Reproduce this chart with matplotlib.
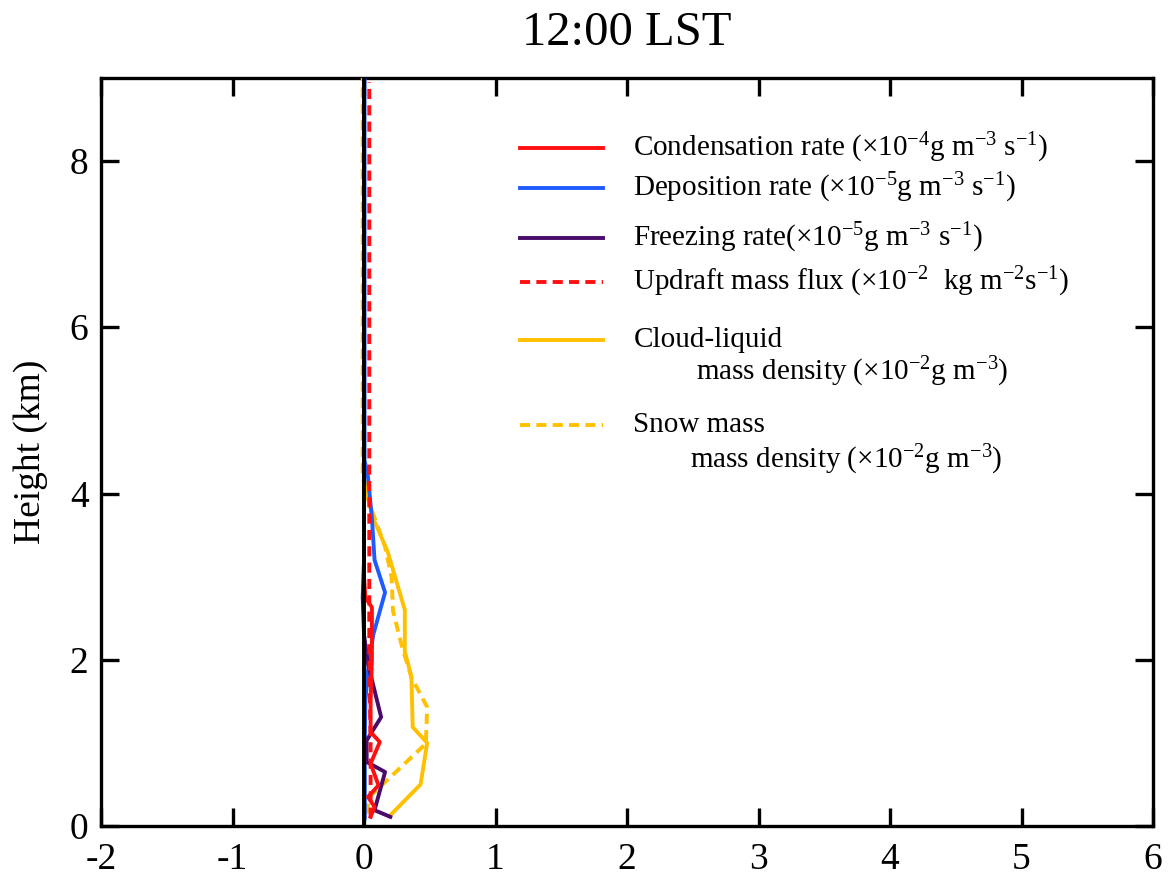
import matplotlib
matplotlib.use("Agg")
import matplotlib.pyplot as plt
from matplotlib.lines import Line2D

plt.rcParams['font.family'] = ['Liberation Serif', 'DejaVu Serif']
plt.rcParams['mathtext.fontset'] = 'custom'
plt.rcParams['mathtext.rm'] = 'Liberation Serif'
plt.rcParams['mathtext.it'] = 'Liberation Serif:italic'
plt.rcParams['mathtext.bf'] = 'Liberation Serif:bold'

# ---- data (values x, heights km) ----
cond_h = [0.11, 0.23, 0.35, 0.49, 0.75, 1.01, 1.13, 1.5, 2.0, 2.4, 2.63, 2.75, 3.0, 9.0]
cond_x = [0.05, 0.08, 0.03, 0.11, 0.05, 0.12, 0.05, 0.05, 0.06, 0.06, 0.06, 0.01, 0.0, 0.0]

dep_h = [0.1, 1.0, 1.5, 1.87, 2.3, 2.81, 3.2, 3.7, 4.2, 4.4, 9.0]
dep_x = [0.006, 0.006, 0.01, 0.03, 0.07, 0.16, 0.08, 0.06, 0.03, 0.004, 0.004]

frz_h = [0.11, 0.19, 0.65, 0.77, 1.03, 1.31, 1.95, 2.3, 2.75, 3.2, 9.0]
frz_x = [0.20, 0.08, 0.16, 0.02, 0.02, 0.13, 0.03, 0.0, -0.01, 0.0, 0.0]

upd_h = [0.1, 0.5, 1.0, 1.5, 2.0, 2.5, 3.0, 4.0, 8.95]
upd_x = [0.05, 0.05, 0.05, 0.045, 0.04, 0.04, 0.04, 0.04, 0.04]

liq_h = [0.13, 0.5, 1.0, 1.19, 1.8, 2.1, 2.6, 3.3, 3.7, 4.0, 4.2, 9.0]
liq_x = [0.20, 0.43, 0.48, 0.37, 0.36, 0.31, 0.31, 0.18, 0.07, 0.02, 0.0, 0.0]

snow_h = [0.15, 0.35, 0.99, 1.43, 1.79, 2.15, 2.59, 2.99, 3.36, 3.75, 4.0, 4.2, 9.0]
snow_x = [0.02, 0.04, 0.47, 0.48, 0.36, 0.29, 0.22, 0.21, 0.16, 0.07, 0.02, -0.01, -0.01]

xticks = [-2, -1, 0, 1, 2, 3, 4, 5, 6]
yticks = [0, 2, 4, 6, 8]

labels = [
    r"Condensation rate (×10$^{-4}$g m$^{-3}$ s$^{-1}$)",
    r"Deposition rate (×10$^{-5}$g m$^{-3}$ s$^{-1}$)",
    r"Freezing rate(×10$^{-5}$g m$^{-3}$ s$^{-1}$)",
    r"Updraft mass flux (×10$^{-2}$  kg m$^{-2}$s$^{-1}$)",
    r"Cloud-liquid",
    r"Snow mass",
]
labels2 = [None, None, None, None,
           r"mass density (×10$^{-2}$g m$^{-3}$)",
           r"mass density (×10$^{-2}$g m$^{-3}$)"]

RED = '#FF1010'
BLUE = '#1F5BFF'
PURPLE = '#4A0B6A'
GOLD = '#FFC000'

fig = plt.figure(figsize=(11.69, 8.75), dpi=100)
ax = fig.add_axes([0.0864, 0.056, 0.9, 0.855])

lw = 2.8
dash = (2.6, 1.6)
ax.plot(liq_x, liq_h, color=GOLD, lw=lw, zorder=3)
ax.plot(snow_x, snow_h, color=GOLD, lw=lw, ls=(0, dash), zorder=3)
ax.plot(dep_x, dep_h, color=BLUE, lw=lw, zorder=4)
ax.plot(frz_x, frz_h, color=PURPLE, lw=lw, zorder=4)
ax.plot(cond_x, cond_h, color=RED, lw=lw, zorder=4)
ax.axvline(0, color='black', lw=2.8, zorder=5)
ax.plot(upd_x, upd_h, color=RED, lw=lw, ls=(0, dash), zorder=6)

ax.set_xlim(-2, 6)
ax.set_ylim(0, 9)
ax.set_xticks(xticks)
ax.set_yticks(yticks)
ax.set_xticklabels([str(v) for v in xticks])
ax.set_yticklabels([str(v) for v in yticks])
ax.tick_params(direction='in', length=13, width=2.4, labelsize=27,
               top=True, right=True)
ax.tick_params(axis='x', pad=12)
ax.tick_params(axis='y', pad=9)
for s in ax.spines.values():
    s.set_linewidth(2.4)
ax.set_ylabel("Height (km)", fontsize=27, labelpad=16)
ax.set_title("12:00 LST", fontsize=35, pad=24)

# legend (manual)
colors = [RED, BLUE, PURPLE, RED, GOLD, GOLD]
styles = ['-', '-', '-', (0, dash), '-', (0, dash)]
ys = [0.906, 0.853, 0.786, 0.727, 0.650, 0.536]
y2 = [None, None, None, None, 0.607, 0.489]
x2 = [None, None, None, None, 0.566, 0.560]
for c, st, y, lab, l2, yy2, xx2 in zip(colors, styles, ys, labels, labels2, y2, x2):
    ln = Line2D([0.398, 0.477], [y, y], color=c, lw=lw, ls=st, transform=ax.transAxes)
    ax.add_line(ln)
    ax.text(0.506, y, lab, transform=ax.transAxes, fontsize=21, va='center', ha='left')
    if l2:
        ax.text(xx2, yy2, l2, transform=ax.transAxes, fontsize=21, va='center', ha='left')

fig.savefig("out.png", dpi=100)
